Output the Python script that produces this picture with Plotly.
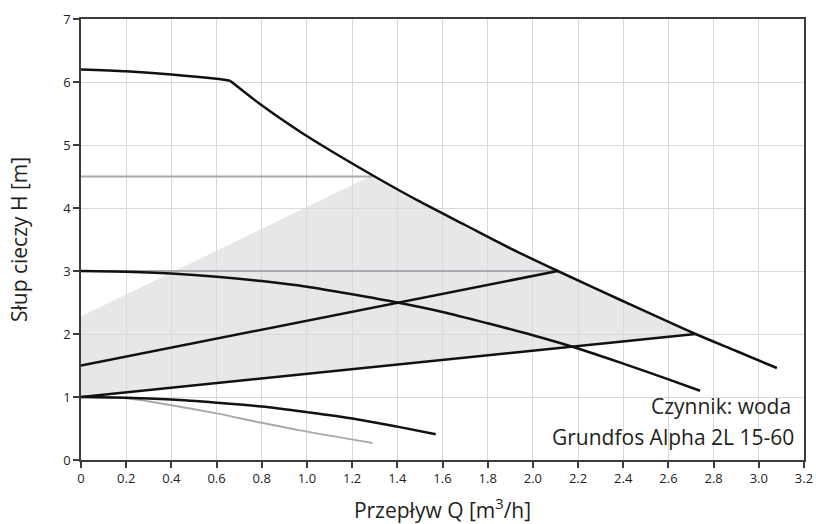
import plotly.graph_objects as go

# Pump curves for Grundfos Alpha 2L 15-60 (flow Q in m3/h, head H in m)
# maximum curve: flat part up to the kink, then the falling branch
max_top_q = [0, 0.2, 0.4, 0.6, 0.66]
max_top_h = [6.2, 6.17, 6.12, 6.05, 6.02]
max_q = [0.66, 0.8, 0.97, 1.1, 1.29, 1.49, 1.7, 1.9, 2.11, 2.4, 2.72, 2.9, 3.08]
max_h = [6.02, 5.63, 5.21, 4.92, 4.52, 4.12, 3.73, 3.36, 3.0, 2.52, 2.0, 1.73, 1.46]

# constant-pressure curve (3 m)
const_q = [0, 0.2, 0.4, 0.6, 0.8, 1.0, 1.2, 1.4, 1.6, 1.8, 2.0, 2.2, 2.4, 2.6, 2.74]
const_h = [3.0, 2.99, 2.96, 2.91, 2.84, 2.75, 2.63, 2.5, 2.35, 2.17, 1.98, 1.77, 1.53, 1.28, 1.1]

# proportional-pressure lines
prop_hi_q = [0, 2.11]
prop_hi_h = [1.5, 3.0]
prop_lo_q = [0, 2.72]
prop_lo_h = [1.0, 2.0]

# lowest speed curves
low_q = [0, 0.2, 0.4, 0.6, 0.8, 1.0, 1.2, 1.4, 1.57]
low_h = [1.0, 0.99, 0.96, 0.91, 0.85, 0.76, 0.66, 0.53, 0.41]
min_q = [0, 0.2, 0.4, 0.6, 0.8, 0.97, 1.29]
min_h = [1.0, 0.98, 0.87, 0.74, 0.59, 0.47, 0.27]

# Horizontal set-point lines
set45_q = [0, 1.29]
set45_h = [4.5, 4.5]
set30_q = [0, 2.11]
set30_h = [3.0, 3.0]

# Operating area: left edge rising to the 4.5 m set-point, then the max curve
area_edge_q = [0, 1.29]
area_edge_h = [2.28, 4.52]

x_ticks = [0, 0.2, 0.4, 0.6, 0.8, 1.0, 1.2, 1.4, 1.6, 1.8, 2.0, 2.2, 2.4, 2.6, 2.8, 3.0, 3.2]
x_labels = ["0", "0.2", "0.4", "0.6", "0.8", "1.0", "1.2", "1.4", "1.6", "1.8",
            "2.0", "2.2", "2.4", "2.6", "2.8", "3.0", "3.2"]
y_ticks = [0, 1, 2, 3, 4, 5, 6, 7]

FONT = "Open Sans"
TEXT = "#231f20"
BLACK = "#111111"
GREY = "#a7a9ac"

# polygon of the operating area
poly = list(zip(area_edge_q, area_edge_h))
poly += [(q, h) for q, h in zip(max_q, max_h) if area_edge_q[-1] < q <= prop_lo_q[-1]]
poly += [(prop_lo_q[-1], prop_lo_h[-1]), (prop_lo_q[0], prop_lo_h[0])]
path = "M " + " L ".join(f"{q},{h}" for q, h in poly) + " Z"

fig = go.Figure()

def line(q, h, color, width, smooth=True):
    fig.add_trace(go.Scatter(x=q, y=h, mode="lines", showlegend=False, hoverinfo="skip",
                             line=dict(color=color, width=width,
                                       shape="spline" if smooth else "linear",
                                       smoothing=0.8)))

line(set45_q, set45_h, GREY, 2, False)
line(set30_q, set30_h, GREY, 2, False)
line(min_q, min_h, GREY, 2)
line(max_top_q, max_top_h, BLACK, 2.5)
line(max_q, max_h, BLACK, 2.5)
line(const_q, const_h, BLACK, 2.5)
line(prop_hi_q, prop_hi_h, BLACK, 2.5, False)
line(prop_lo_q, prop_lo_h, BLACK, 2.5, False)
line(low_q, low_h, BLACK, 2.5)

fig.add_shape(type="path", path=path, xref="x", yref="y", layer="below",
              fillcolor="#e6e7e8", line=dict(width=0))

fig.add_annotation(x=3.15, y=0.85, xref="x", yref="y", text="Czynnik: woda",
                   showarrow=False, xanchor="right", yanchor="middle",
                   font=dict(family=FONT, size=21, color=TEXT))
fig.add_annotation(x=3.165, y=0.36, xref="x", yref="y", text="Grundfos Alpha 2L 15-60",
                   showarrow=False, xanchor="right", yanchor="middle",
                   font=dict(family=FONT, size=21, color=TEXT))

axis_common = dict(showline=True, linecolor="#3c3c3c", linewidth=1.5, mirror=True,
                   showgrid=True, gridcolor="#d9d9d9", gridwidth=1.2,
                   ticks="outside", ticklen=6, tickwidth=1.5, tickcolor="#3c3c3c",
                   zeroline=False, automargin=False,
                   tickfont=dict(family=FONT, size=13, color=TEXT))

fig.update_xaxes(range=[0, 3.2], tickvals=x_ticks, ticktext=x_labels,
                 title=dict(text="Przepływ Q [m<sup>3</sup>/h]", standoff=17,
                            font=dict(family=FONT, size=21, color=TEXT)),
                 **axis_common)
fig.update_yaxes(range=[0, 7], tickvals=y_ticks,
                 title=dict(text="Słup cieczy H [m]", standoff=30,
                            font=dict(family=FONT, size=21, color=TEXT)),
                 **axis_common)

fig.update_layout(width=816, height=524, margin=dict(l=81, r=12, t=19, b=64),
                  plot_bgcolor="white", paper_bgcolor="white", showlegend=False)

fig.write_html("out.html")
